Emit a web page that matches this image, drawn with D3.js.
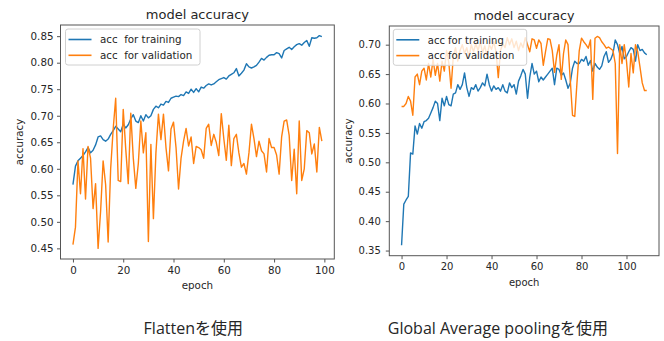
<!DOCTYPE html>
<html>
<head>
<meta charset="utf-8">
<script src="https://cdn.jsdelivr.net/npm/d3@7"></script>
<style>
  body { margin: 0; background: #fff; }
  svg text { font-family: "DejaVu Sans", sans-serif; fill: #262626; }
</style>
</head>
<body>
<div id="vis"></div>
<script>
// 左: Flatten
const flatTrain = [
  0.570, 0.605, 0.615, 0.620, 0.625, 0.632, 0.640, 0.630, 0.635, 0.645,
  0.660, 0.662, 0.655, 0.652, 0.656, 0.665, 0.672, 0.680, 0.675, 0.670,
  0.684, 0.677, 0.683, 0.694, 0.702, 0.690, 0.687, 0.700, 0.690, 0.702,
  0.696, 0.700, 0.712, 0.718, 0.715, 0.722, 0.720, 0.727, 0.725, 0.733,
  0.735, 0.737, 0.736, 0.740, 0.738, 0.745, 0.742, 0.750, 0.744, 0.751,
  0.745, 0.754, 0.752, 0.757, 0.760, 0.758, 0.760, 0.764, 0.768, 0.770,
  0.772, 0.769, 0.775, 0.778, 0.781, 0.789, 0.775, 0.780, 0.786, 0.798,
  0.792, 0.790, 0.792, 0.795, 0.801, 0.808, 0.805, 0.810, 0.814, 0.815,
  0.815, 0.819, 0.817, 0.809, 0.823, 0.826, 0.829, 0.825, 0.830, 0.834,
  0.836, 0.833, 0.838, 0.842, 0.831, 0.847, 0.846, 0.847, 0.851, 0.849
];
const flatVal = [
  0.457, 0.490, 0.615, 0.553, 0.638, 0.543, 0.642, 0.620, 0.525, 0.572,
  0.450, 0.520, 0.615, 0.570, 0.462, 0.600, 0.675, 0.733, 0.578, 0.576,
  0.712, 0.637, 0.572, 0.705, 0.620, 0.563, 0.610, 0.690, 0.630, 0.668,
  0.463, 0.646, 0.506, 0.630, 0.703, 0.655, 0.703, 0.640, 0.596, 0.675,
  0.688, 0.640, 0.562, 0.620, 0.652, 0.676, 0.643, 0.660, 0.610, 0.642,
  0.640, 0.636, 0.620, 0.676, 0.684, 0.644, 0.665, 0.650, 0.625, 0.704,
  0.657, 0.616, 0.682, 0.606, 0.657, 0.665, 0.630, 0.603, 0.610, 0.590,
  0.630, 0.684, 0.657, 0.623, 0.652, 0.634, 0.628, 0.594, 0.657, 0.640,
  0.640, 0.626, 0.590, 0.660, 0.690, 0.692, 0.663, 0.578, 0.637, 0.553,
  0.690, 0.578, 0.600, 0.672, 0.668, 0.628, 0.647, 0.594, 0.678, 0.652
];

// 右: Global Average pooling
const gapTrain = [
  0.359, 0.429, 0.436, 0.442, 0.516, 0.514, 0.562, 0.548, 0.566, 0.558,
  0.569, 0.571, 0.575, 0.584, 0.593, 0.604, 0.600, 0.571, 0.609, 0.596,
  0.612, 0.598, 0.596, 0.616, 0.618, 0.632, 0.624, 0.632, 0.652, 0.627,
  0.612, 0.627, 0.624, 0.632, 0.621, 0.627, 0.635, 0.630, 0.650, 0.632,
  0.621, 0.630, 0.624, 0.627, 0.621, 0.632, 0.621, 0.618, 0.635, 0.627,
  0.632, 0.616, 0.638, 0.647, 0.658, 0.650, 0.609, 0.645, 0.668, 0.650,
  0.655, 0.637, 0.645, 0.640, 0.645, 0.650, 0.655, 0.660, 0.632, 0.660,
  0.658, 0.648, 0.652, 0.640, 0.626, 0.635, 0.660, 0.672, 0.668, 0.668,
  0.675, 0.672, 0.680, 0.665, 0.673, 0.655, 0.668, 0.662, 0.658, 0.664,
  0.680, 0.688, 0.670, 0.675, 0.685, 0.708, 0.700, 0.685, 0.697, 0.676,
  0.680, 0.688, 0.695, 0.692, 0.672, 0.700, 0.690, 0.692, 0.686, 0.683
];
const gapVal = [
  0.595, 0.595, 0.600, 0.612, 0.604, 0.580, 0.645, 0.650, 0.632, 0.655,
  0.660, 0.640, 0.668, 0.645, 0.675, 0.648, 0.668, 0.638, 0.672, 0.655,
  0.690, 0.670, 0.626, 0.680, 0.695, 0.672, 0.690, 0.700, 0.685, 0.695,
  0.678, 0.700, 0.688, 0.702, 0.690, 0.705, 0.686, 0.698, 0.680, 0.700,
  0.692, 0.705, 0.688, 0.644, 0.690, 0.702, 0.695, 0.712, 0.700, 0.710,
  0.695, 0.706, 0.690, 0.703, 0.695, 0.712, 0.700, 0.688, 0.710, 0.708,
  0.694, 0.708, 0.702, 0.665, 0.688, 0.710, 0.709, 0.690, 0.653, 0.682,
  0.700, 0.641, 0.685, 0.708, 0.700, 0.640, 0.580, 0.578, 0.636, 0.690,
  0.711, 0.705, 0.700, 0.694, 0.708, 0.607, 0.711, 0.714, 0.712, 0.705,
  0.700, 0.694, 0.696, 0.693, 0.690, 0.668, 0.515, 0.700, 0.668, 0.700,
  0.672, 0.628, 0.685, 0.652, 0.700, 0.688, 0.662, 0.635, 0.622, 0.622
];

const xTicks = [0, 20, 40, 60, 80, 100];
const flatYTicks = [0.45, 0.50, 0.55, 0.60, 0.65, 0.70, 0.75, 0.80, 0.85];
const gapYTicks = [0.35, 0.40, 0.45, 0.50, 0.55, 0.60, 0.65, 0.70];
const legendLabels = ["acc  for training", "acc  for validation"];
const legendLabels2 = ["acc for training", "acc for validation"];
const captions = ["Flattenを使用", "Global Average poolingを使用"];

const blue = "#1f77b4", orange = "#ff7f0e";

const svg = d3.select("#vis").append("svg")
    .attr("width", 664)
    .attr("height", 341);

svg.append("rect").attr("width", 664).attr("height", 341).attr("fill", "#fff");

function drawPanel(p) {
    const n = p.train.length;
    const pad = (n - 1) * 0.05;
    const x = d3.scaleLinear()
        .domain([-pad, n - 1 + pad])
        .range([p.left, p.right]);

    const all = p.train.concat(p.val);
    const lo = d3.min(all), hi = d3.max(all);
    const ypad = (hi - lo) * 0.05;
    const y = d3.scaleLinear()
        .domain([lo - ypad, hi + ypad])
        .range([p.bottom, p.top]);

    const g = svg.append("g");

    // x軸
    const gx = g.append("g")
        .attr("transform", "translate(0," + p.bottom + ")")
        .call(d3.axisBottom(x).tickValues(xTicks).tickSize(3.5).tickSizeOuter(0).tickPadding(4));
    gx.select(".domain").remove();
    gx.selectAll("line").attr("stroke", "#555");
    gx.selectAll("text").style("font-size", p.fs + "px").attr("fill", "#262626");

    // y軸
    const gy = g.append("g")
        .attr("transform", "translate(" + p.left + ",0)")
        .call(d3.axisLeft(y).tickValues(p.yTicks).tickFormat(d3.format(".2f"))
            .tickSize(3.5).tickSizeOuter(0).tickPadding(p.ypadTick));
    gy.select(".domain").remove();
    gy.selectAll("line").attr("stroke", "#555");
    gy.selectAll("text").style("font-size", p.fs + "px").attr("fill", "#262626");

    // 折れ線
    const line = d3.line()
        .x((d, i) => x(i))
        .y(d => y(d));

    g.append("path").datum(p.train)
        .attr("fill", "none").attr("stroke", blue)
        .attr("stroke-width", 1.4).attr("stroke-linejoin", "round")
        .attr("d", line);
    g.append("path").datum(p.val)
        .attr("fill", "none").attr("stroke", orange)
        .attr("stroke-width", 1.4).attr("stroke-linejoin", "round")
        .attr("d", line);

    // 枠
    g.append("rect")
        .attr("x", p.left).attr("y", p.top)
        .attr("width", p.right - p.left).attr("height", p.bottom - p.top)
        .attr("fill", "none").attr("stroke", "#555").attr("stroke-width", 1);

    // タイトル・軸ラベル
    const cx = (p.left + p.right) / 2;
    g.append("text").attr("x", cx).attr("y", p.titleY)
        .attr("text-anchor", "middle").style("font-size", p.titleFs + "px")
        .text("model accuracy");
    g.append("text").attr("x", cx).attr("y", p.xlabY)
        .attr("text-anchor", "middle").style("font-size", p.fs + "px")
        .text("epoch");
    g.append("text")
        .attr("transform", "translate(" + p.ylabX + "," + (p.top + p.bottom) / 2 + ") rotate(-90)")
        .attr("text-anchor", "middle").style("font-size", p.fs + "px")
        .text("accuracy");

    // 凡例
    const lg = g.append("g");
    lg.append("rect")
        .attr("x", p.leg[0]).attr("y", p.leg[1])
        .attr("width", p.leg[2]).attr("height", p.leg[3])
        .attr("rx", 2.5)
        .attr("fill", "#fff").attr("fill-opacity", 0.8)
        .attr("stroke", "#d0d0d0").attr("stroke-width", 1);
    [blue, orange].forEach((c, i) => {
        const ly = p.leg[1] + 10.5 + i * 15.8;
        lg.append("line")
            .attr("x1", p.leg[0] + 3).attr("x2", p.leg[0] + 26)
            .attr("y1", ly).attr("y2", ly)
            .attr("stroke", c).attr("stroke-width", 1.6);
        lg.append("text")
            .attr("x", p.leg[0] + 34.5).attr("y", ly + 3.7)
            .style("font-size", p.fs + "px")
            .style("white-space", "pre")
            .text(p.labels[i]);
    });
}

drawPanel({
    train: flatTrain, val: flatVal, yTicks: flatYTicks, labels: legendLabels,
    left: 60.5, right: 334.3, top: 25, bottom: 259,
    fs: 10.3, titleFs: 13, titleY: 19, xlabY: 289, ylabX: 23, ypadTick: 3.5,
    leg: [65.5, 29, 134.5, 36]
});

drawPanel({
    train: gapTrain, val: gapVal, yTicks: gapYTicks, labels: legendLabels2,
    left: 389.3, right: 659, top: 26, bottom: 255.7,
    fs: 10, titleFs: 12.7, titleY: 19.5, xlabY: 285.5, ylabX: 351.5, ypadTick: 5,
    leg: [393.3, 29.3, 133.4, 36]
});

// キャプション
svg.selectAll(".caption")
    .data(captions)
  .enter().append("text")
    .attr("class", "caption")
    .attr("x", (d, i) => i === 0 ? 193.3 : 497.9)
    .attr("y", 334)
    .attr("text-anchor", "middle")
    .style("font-family", "'Open Sans', 'Noto Sans CJK JP', sans-serif")
    .style("font-size", "16px")
    .text(d => d);
</script>
</body>
</html>
